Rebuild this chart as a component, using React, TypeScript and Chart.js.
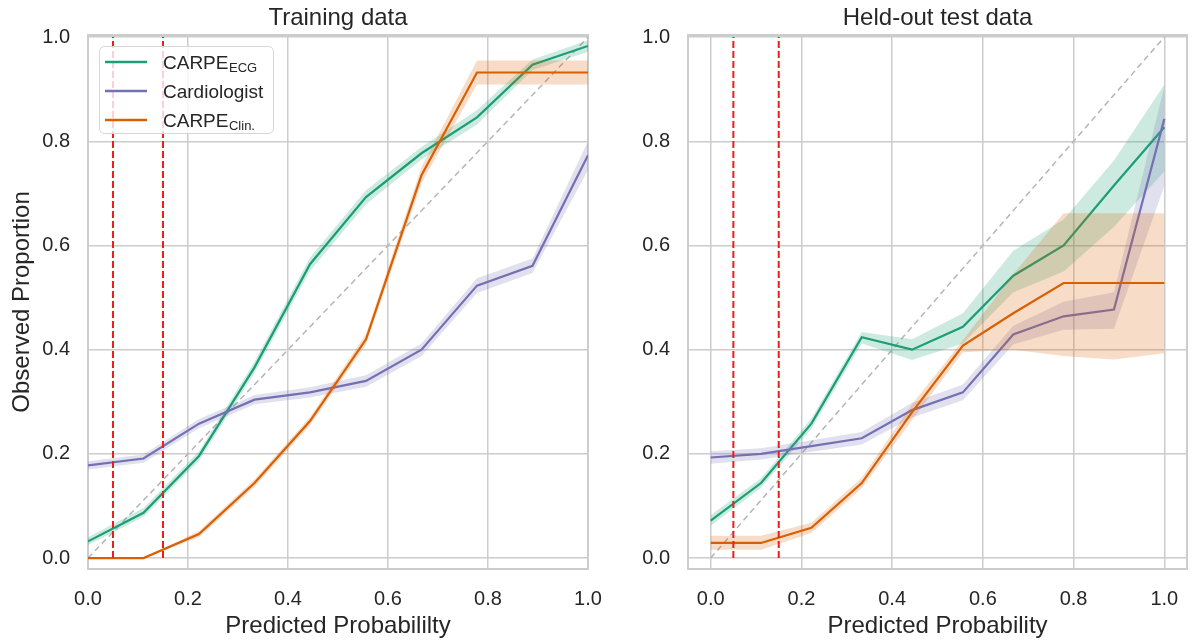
import React, { useEffect, useRef } from "react";
import { Chart, registerables } from "chart.js";

Chart.register(...registerables);

// ---------- data ----------
const BINS = [0, 0.111, 0.222, 0.333, 0.444, 0.556, 0.667, 0.778, 0.889, 1.0];
const X_TICKS = [0, 0.2, 0.4, 0.6, 0.8, 1.0];
const Y_TICKS = [0, 0.2, 0.4, 0.6, 0.8, 1.0];
const THRESHOLDS = [0.05, 0.15];
const DIAGONAL = [0, 1];

const PANEL_TITLES = ["Training data", "Held-out test data"];
const X_TITLES = ["Predicted Probabililty", "Predicted Probability"];
const Y_TITLE = "Observed Proportion";

const LEGEND_LABELS = ["CARPE", "Cardiologist", "CARPE"];
const LEGEND_SUBS = ["ECG", "", "Clin."];

// training data
const trainEcg = [0.032, 0.087, 0.196, 0.366, 0.564, 0.693, 0.777, 0.846, 0.947, 0.983];
const trainEcgLo = [0.025, 0.079, 0.187, 0.355, 0.551, 0.679, 0.765, 0.832, 0.937, 0.972];
const trainEcgHi = [0.040, 0.096, 0.205, 0.377, 0.577, 0.706, 0.789, 0.860, 0.957, 0.994];

const trainCard = [0.178, 0.191, 0.258, 0.304, 0.318, 0.340, 0.400, 0.523, 0.561, 0.773];
const trainCardLo = [0.170, 0.183, 0.249, 0.295, 0.308, 0.329, 0.388, 0.509, 0.547, 0.745];
const trainCardHi = [0.186, 0.199, 0.267, 0.313, 0.328, 0.351, 0.412, 0.537, 0.575, 0.800];

const trainClin = [0.0, 0.0, 0.046, 0.144, 0.263, 0.420, 0.735, 0.932, 0.932, 0.932];
const trainClinLo = [0.0, 0.0, 0.040, 0.137, 0.255, 0.410, 0.720, 0.909, 0.909, 0.909];
const trainClinHi = [0.0, 0.0, 0.052, 0.151, 0.271, 0.430, 0.750, 0.955, 0.955, 0.955];

// held-out test data
const testEcg = [0.072, 0.144, 0.258, 0.424, 0.400, 0.444, 0.542, 0.600, 0.715, 0.827];
const testEcgLo = [0.062, 0.135, 0.248, 0.412, 0.380, 0.412, 0.510, 0.550, 0.636, 0.742];
const testEcgHi = [0.082, 0.153, 0.268, 0.434, 0.420, 0.470, 0.590, 0.650, 0.763, 0.909];

const testCard = [0.193, 0.200, 0.215, 0.230, 0.284, 0.318, 0.429, 0.464, 0.477, 0.843];
const testCardLo = [0.181, 0.189, 0.204, 0.218, 0.270, 0.303, 0.410, 0.438, 0.440, 0.714];
const testCardHi = [0.205, 0.211, 0.226, 0.242, 0.298, 0.333, 0.446, 0.492, 0.510, 0.905];

const testClin = [0.029, 0.029, 0.058, 0.144, 0.280, 0.408, 0.470, 0.528, 0.528, 0.528];
const testClinLo = [0.016, 0.016, 0.048, 0.134, 0.265, 0.395, 0.400, 0.388, 0.381, 0.393];
const testClinHi = [0.043, 0.043, 0.068, 0.154, 0.295, 0.418, 0.545, 0.662, 0.662, 0.662];

// ---------- styles ----------
const FONT = "'Liberation Sans', Arial, Helvetica, sans-serif";
const TEXT = "#262626";
const GRID = "#cccccc";
const COLORS = ["#1b9e77", "#7570b3", "#d95f02"];
const BANDS = ["rgba(27,158,119,0.22)", "rgba(117,112,179,0.22)", "rgba(217,95,2,0.22)"];

type Series = { mid: number[]; lo: number[]; hi: number[] };

const pts = (ys: number[]) => BINS.map((x, i) => ({ x, y: ys[i] }));

function buildDatasets(series: Series[]) {
  const ds: any[] = [];
  ds.push({
    data: DIAGONAL.map((v) => ({ x: v, y: v })),
    borderColor: "#b5b5b5",
    borderDash: [6, 4],
    borderWidth: 1.5,
    pointRadius: 0,
    fill: false,
  });
  series.forEach((s, k) => {
    ds.push({ data: pts(s.lo), borderColor: "rgba(0,0,0,0)", borderWidth: 0, pointRadius: 0, fill: false });
    ds.push({
      data: pts(s.hi),
      borderColor: "rgba(0,0,0,0)",
      borderWidth: 0,
      pointRadius: 0,
      fill: "-1",
      backgroundColor: BANDS[k],
    });
    ds.push({ data: pts(s.mid), borderColor: COLORS[k], borderWidth: 2.2, pointRadius: 0, fill: false });
  });
  THRESHOLDS.forEach((t) => {
    ds.push({
      data: [
        { x: t, y: 0 },
        { x: t, y: 1 },
      ],
      borderColor: "#f21b1b",
      borderDash: [7, 3],
      borderWidth: 2,
      pointRadius: 0,
      fill: false,
    });
  });
  ds.forEach((d, i) => {
    d.order = ds.length - i;
    d.tension = 0;
  });
  return ds;
}

type PanelProps = {
  width: number;
  left: number;
  series: Series[];
  title: string;
  xTitle: string;
  yTitle: string | null;
  xMin: number;
  xMax: number;
  yAxisWidth: number;
  padRight: number;
  legend: boolean;
};

function Panel(p: PanelProps) {
  const ref = useRef<HTMLCanvasElement | null>(null);
  useEffect(() => {
    if (!ref.current) return;
    const framePlugin = {
      id: "frame",
      beforeDatasetsDraw(chart: any) {
        const { ctx, chartArea: a } = chart;
        ctx.save();
        ctx.strokeStyle = GRID;
        ctx.lineWidth = 2;
        ctx.strokeRect(a.left, a.top, a.right - a.left, a.bottom - a.top);
        ctx.restore();
      },
    };
    const titlePlugin = {
      id: "panelTitle",
      afterDraw(chart: any) {
        const { ctx, chartArea: a } = chart;
        ctx.save();
        ctx.fillStyle = TEXT;
        ctx.font = `24px ${FONT}`;
        ctx.textAlign = "center";
        ctx.textBaseline = "alphabetic";
        ctx.fillText(p.title, (a.left + a.right) / 2, 25);
        ctx.restore();
      },
    };
    const legendPlugin = {
      id: "customLegend",
      afterDatasetsDraw(chart: any) {
        if (!p.legend) return;
        const ctx = chart.ctx;
        ctx.save();
        const bx = 99.5, by = 46.5, bw = 174, bh = 87, r = 5;
        ctx.beginPath();
        ctx.moveTo(bx + r, by);
        ctx.lineTo(bx + bw - r, by);
        ctx.arcTo(bx + bw, by, bx + bw, by + r, r);
        ctx.lineTo(bx + bw, by + bh - r);
        ctx.arcTo(bx + bw, by + bh, bx + bw - r, by + bh, r);
        ctx.lineTo(bx + r, by + bh);
        ctx.arcTo(bx, by + bh, bx, by + bh - r, r);
        ctx.lineTo(bx, by + r);
        ctx.arcTo(bx, by, bx + r, by, r);
        ctx.closePath();
        ctx.fillStyle = "rgba(255,255,255,0.8)";
        ctx.fill();
        ctx.strokeStyle = "#d6d6d6";
        ctx.lineWidth = 1;
        ctx.stroke();
        LEGEND_LABELS.forEach((lab, i) => {
          const y = 62 + 29 * i;
          ctx.strokeStyle = COLORS[i];
          ctx.lineWidth = 2.5;
          ctx.beginPath();
          ctx.moveTo(105, y);
          ctx.lineTo(147, y);
          ctx.stroke();
          ctx.fillStyle = TEXT;
          ctx.textAlign = "left";
          ctx.textBaseline = "alphabetic";
          ctx.font = `19px ${FONT}`;
          ctx.fillText(lab, 163, y + 6.5);
          const w = ctx.measureText(lab).width;
          if (LEGEND_SUBS[i]) {
            ctx.font = `13px ${FONT}`;
            ctx.fillText(LEGEND_SUBS[i], 163 + w + 0.5, y + 10);
          }
        });
        ctx.restore();
      },
    };

    const chart = new Chart(ref.current, {
      type: "line",
      data: { datasets: buildDatasets(p.series) },
      options: {
        responsive: false,
        animation: false,
        devicePixelRatio: 1,
        layout: { padding: { top: 35, right: p.padRight, left: 0, bottom: 0 } },
        plugins: {
          legend: { display: false },
          tooltip: { enabled: false },
        },
        scales: {
          x: {
            type: "linear",
            min: p.xMin,
            max: p.xMax,
            afterBuildTicks: (s: any) => {
              s.ticks = X_TICKS.map((v) => ({ value: v }));
            },
            afterFit: (s: any) => {
              s.height = 74;
              s.paddingLeft = 0;
              s.paddingRight = 0;
            },
            grid: { color: GRID, lineWidth: 1.5, drawTicks: false },
            border: { display: false },
            ticks: {
              padding: 18,
              color: TEXT,
              font: { family: FONT, size: 20 },
              autoSkip: false,
              maxRotation: 0,
              callback: (v: any) => Number(v).toFixed(1),
            },
            title: {
              display: true,
              text: p.xTitle,
              color: TEXT,
              font: { family: FONT, size: 24 },
              padding: { top: 0, bottom: 2 },
            },
          },
          y: {
            type: "linear",
            min: -0.021,
            max: 1.004,
            afterBuildTicks: (s: any) => {
              s.ticks = Y_TICKS.map((v) => ({ value: v }));
            },
            afterFit: (s: any) => {
              s.width = p.yAxisWidth;
              s.paddingTop = 0;
              s.paddingBottom = 0;
            },
            grid: { color: GRID, lineWidth: 1.5, drawTicks: false },
            border: { display: false },
            ticks: {
              padding: 18,
              color: TEXT,
              font: { family: FONT, size: 20 },
              autoSkip: false,
              callback: (v: any) => Number(v).toFixed(1),
            },
            title: {
              display: !!p.yTitle,
              text: p.yTitle || "",
              color: TEXT,
              font: { family: FONT, size: 24 },
              padding: { top: 8, bottom: 0 },
            },
          },
        },
      } as any,
      plugins: [framePlugin, legendPlugin, titlePlugin],
    });
    return () => chart.destroy();
  }, []);
  return (
    <canvas
      ref={ref}
      width={p.width}
      height={643}
      style={{ position: "absolute", left: p.left, top: 0, width: p.width, height: 643 }}
    />
  );
}

export default function App() {
  const train: Series[] = [
    { mid: trainEcg, lo: trainEcgLo, hi: trainEcgHi },
    { mid: trainCard, lo: trainCardLo, hi: trainCardHi },
    { mid: trainClin, lo: trainClinLo, hi: trainClinHi },
  ];
  const test: Series[] = [
    { mid: testEcg, lo: testEcgLo, hi: testEcgHi },
    { mid: testCard, lo: testCardLo, hi: testCardHi },
    { mid: testClin, lo: testClinLo, hi: testClinHi },
  ];
  return (
    <div style={{ position: "fixed", left: 0, top: 0, width: 1192, height: 643, background: "#ffffff" }}>
      <Panel
        width={610}
        left={0}
        series={train}
        title={PANEL_TITLES[0]}
        xTitle={X_TITLES[0]}
        yTitle={Y_TITLE}
        xMin={0}
        xMax={1}
        yAxisWidth={88}
        padRight={22}
        legend={true}
      />
      <Panel
        width={582}
        left={610}
        series={test}
        title={PANEL_TITLES[1]}
        xTitle={X_TITLES[1]}
        yTitle={null}
        xMin={-0.05}
        xMax={1.05}
        yAxisWidth={78}
        padRight={5}
        legend={false}
      />
    </div>
  );
}
